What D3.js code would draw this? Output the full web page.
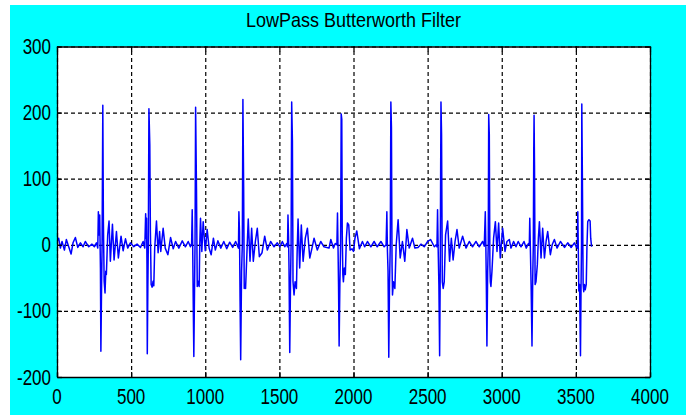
<!DOCTYPE html>
<html>
<head>
<meta charset="utf-8">
<script src="https://cdn.jsdelivr.net/npm/d3@7"></script>
<style>
body{margin:0;background:#fff;}
svg{display:block;}
.lbl{font-family:"Liberation Sans",Arial,sans-serif;fill:#000;}
</style>
</head>
<body>
<svg id="chart" width="686" height="417"></svg>
<script>
// axis settings
var xTicks = [0,500,1000,1500,2000,2500,3000,3500,4000];
var yTicks = [-200,-100,0,100,200,300];
var title = "LowPass Butterworth Filter";

// filtered signal as [sample, value] vertices
var lead = [[0,5],[11,10],[23,-5],[34,5],[50,-8],[63,8],[79,-3],[95,-14],[108,3],[124,11],[140,-4],[158,3],[176,-3],[191,5],[214,-3],[236,1],[252,-3],[266,3]];
var beat1 = [[275,-5],[279,50],[284,15],[288,45],[293,-35],[296,-161],[300,-76],[304,-5],[309,211],[313,35],[318,-55],[324,-73],[329,-40],[333,-45],[342,15],[351,36],[360,-25],[374,31],[385,-23],[401,20],[414,-20],[432,13],[446,-9],[462,9],[477,-5],[495,3],[518,-3],[540,1],[563,-4],[581,5],[592,-5]];
var beat2 = [[598,47],[601,10],[604,40],[607,-30],[609,-165],[613,-60],[616,0],[620,206],[626,151],[630,20],[635,-60],[642,-64],[648,-55],[653,-62],[659,-5],[671,36],[682,-12],[692,20],[700,-10],[716,25],[730,-5],[748,-15],[766,11],[784,-6],[800,5],[822,-5],[845,6],[866,-3],[885,5],[900,-3],[908,2]];
var beat3 = [[912,53],[915,5],[919,-88],[923,-169],[928,-60],[931,0],[935,208],[941,83],[946,-63],[952,-55],[959,-63],[963,0],[968,40],[977,-10],[986,35],[1000,-9],[1013,23],[1026,-5],[1040,-15],[1055,10],[1068,-8],[1085,6],[1105,-5],[1125,5],[1145,-6],[1165,4],[1185,-4],[1205,5],[1220,-3]];
var beat4 = [[1224,-5],[1227,50],[1231,20],[1235,-86],[1239,-174],[1245,-40],[1250,0],[1254,220],[1259,88],[1263,-66],[1268,-60],[1272,-66],[1279,-25],[1290,39],[1302,-25],[1313,25],[1324,-25],[1338,5],[1351,25],[1365,-18],[1383,-12],[1401,13],[1419,-8],[1441,5],[1464,-3],[1486,3],[1504,-3],[1520,5],[1536,-3],[1550,2]];
var beat5 = [[1555,-3],[1558,45],[1562,10],[1565,-35],[1570,-163],[1575,-60],[1579,0],[1583,216],[1588,157],[1592,-56],[1599,-76],[1606,-56],[1615,-66],[1620,-10],[1626,39],[1637,-35],[1648,30],[1660,-25],[1675,10],[1689,25],[1705,-20],[1720,-5],[1734,10],[1756,-8],[1779,5],[1801,-3],[1835,-5],[1847,8],[1865,-5],[1877,2]];
var beat6 = [[1888,0],[1892,48],[1896,-10],[1899,-60],[1903,-153],[1908,-60],[1913,0],[1917,198],[1921,190],[1924,20],[1928,-45],[1932,-56],[1938,-35],[1945,-45],[1952,10],[1959,33],[1968,30],[1977,-8],[1990,-6],[2000,-10],[2010,10],[2022,21],[2040,-6],[2060,5],[2075,-3],[2094,5],[2117,-3],[2139,5],[2160,-3],[2185,5],[2207,-3],[2220,0]];
var beat7 = [[2225,50],[2229,-10],[2233,-40],[2238,-170],[2243,-60],[2248,0],[2252,216],[2256,177],[2260,-30],[2263,-76],[2270,-56],[2279,-66],[2288,0],[2301,38],[2315,-20],[2330,5],[2346,-25],[2360,23],[2376,-5],[2398,10],[2414,-5],[2435,-4],[2455,1],[2477,-3],[2500,5],[2520,8],[2545,-3],[2560,0]];
var beat8 = [[2563,-3],[2567,53],[2571,-5],[2576,-60],[2581,-168],[2585,-40],[2590,216],[2594,167],[2599,-56],[2605,-66],[2612,-56],[2621,15],[2635,36],[2648,-25],[2660,10],[2672,-23],[2685,5],[2698,23],[2713,-5],[2736,13],[2759,-5],[2781,5],[2803,-3],[2826,5],[2848,-3],[2871,5],[2882,-2]];
var beat9 = [[2889,50],[2893,-5],[2896,-60],[2900,-153],[2905,-40],[2909,0],[2912,197],[2916,167],[2920,-30],[2923,-56],[2927,-63],[2934,-40],[2945,10],[2957,35],[2968,-10],[2979,33],[2990,-20],[3006,25],[3022,-10],[3035,5],[3051,8],[3062,-5],[3080,5],[3096,-3],[3111,5],[3130,-3],[3150,5],[3165,-5],[3180,2]];
var beat10 = [[3186,0],[3189,40],[3193,-5],[3198,-60],[3204,-153],[3209,-50],[3213,0],[3216,146],[3218,196],[3221,120],[3225,-60],[3231,-56],[3240,-30],[3247,10],[3254,35],[3265,-20],[3276,25],[3288,-20],[3299,5],[3310,20],[3328,-15],[3340,0],[3355,8],[3373,-5],[3396,5],[3423,-4],[3445,3],[3468,-4],[3490,3],[3502,-3]];
var beat11 = [[3510,-5],[3513,50],[3516,0],[3520,-70],[3525,-60],[3531,-168],[3535,-60],[3538,0],[3540,213],[3544,101],[3549,-60],[3553,-71],[3558,-60],[3563,-68],[3570,-60],[3575,0],[3580,35],[3588,38],[3596,36],[3600,10],[3606,-3]];

var signal = [].concat(lead,beat1,beat2,beat3,beat4,beat5,beat6,beat7,beat8,beat9,beat10,beat11);

var W = 686, H = 417;
var L = 57, R = 650, T = 46.5, B = 377;
var svg = d3.select('#chart');

// figure background
svg.append('rect').attr('x',10).attr('y',5).attr('width',W-10).attr('height',410)
    .attr('fill','#00ffff');
svg.append('rect').attr('x',L).attr('y',T).attr('width',R-L).attr('height',B-T)
    .attr('fill','#fff');

var x = d3.scaleLinear().domain([0,4000]).range([L,R]);
var y = d3.scaleLinear().domain([-200,300]).range([B,T]);

// dashed grid
svg.append('g').attr('transform','translate(0,'+B+')')
    .call(d3.axisBottom(x).tickValues(xTicks).tickSize(-(B-T)).tickFormat(''))
    .call(function(g){
        g.select('.domain').remove();
        g.selectAll('line').attr('stroke','#000').attr('stroke-width',1.2).attr('stroke-dasharray','4,3');
    });
svg.append('g').attr('transform','translate('+L+',0)')
    .call(d3.axisLeft(y).tickValues(yTicks).tickSize(-(R-L)).tickFormat(''))
    .call(function(g){
        g.select('.domain').remove();
        g.selectAll('line').attr('stroke','#000').attr('stroke-width',1.2).attr('stroke-dasharray','4,3');
    });

// signal
svg.append('clipPath').attr('id','clip').append('rect')
    .attr('x',L).attr('y',T).attr('width',R-L).attr('height',B-T);
var line = d3.line().x(function(d){return x(d[0]);}).y(function(d){return y(d[1]);});
svg.append('path').datum(signal)
    .attr('clip-path','url(#clip)')
    .attr('d',line)
    .attr('fill','none').attr('stroke','#0000ff').attr('stroke-width',1.5)
    .attr('stroke-linejoin','round');

// box with inward ticks on all sides
var tk = 5;
var axes = [
    {ax:d3.axisBottom(x).tickValues(xTicks), t:'translate(0,'+B+')'},
    {ax:d3.axisTop(x).tickValues(xTicks), t:'translate(0,'+T+')'},
    {ax:d3.axisLeft(y).tickValues(yTicks), t:'translate('+L+',0)'},
    {ax:d3.axisRight(y).tickValues(yTicks), t:'translate('+R+',0)'}
];
axes.forEach(function(a){
    svg.append('g').attr('transform',a.t)
        .call(a.ax.tickSizeInner(-tk).tickSizeOuter(0).tickFormat(''))
        .call(function(g){
            g.selectAll('path,line').attr('stroke','#000').attr('stroke-width',1.3);
        });
});

// tick labels (text looks vertically stretched in the original)
xTicks.forEach(function(v){
    svg.append('text').attr('class','lbl')
        .attr('transform','translate('+x(v)+','+(B+27)+') scale(1,1.25)')
        .attr('text-anchor','middle').attr('font-size',17)
        .text(v);
});
yTicks.forEach(function(v){
    svg.append('text').attr('class','lbl')
        .attr('transform','translate('+(L-6)+','+(y(v)+7.5)+') scale(1,1.25)')
        .attr('text-anchor','end').attr('font-size',17)
        .text(v);
});
svg.append('text').attr('class','lbl')
    .attr('transform','translate('+((L+R)/2)+',27) scale(1,1.15)')
    .attr('text-anchor','middle').attr('font-size',18)
    .text(title);
</script>
</body>
</html>
